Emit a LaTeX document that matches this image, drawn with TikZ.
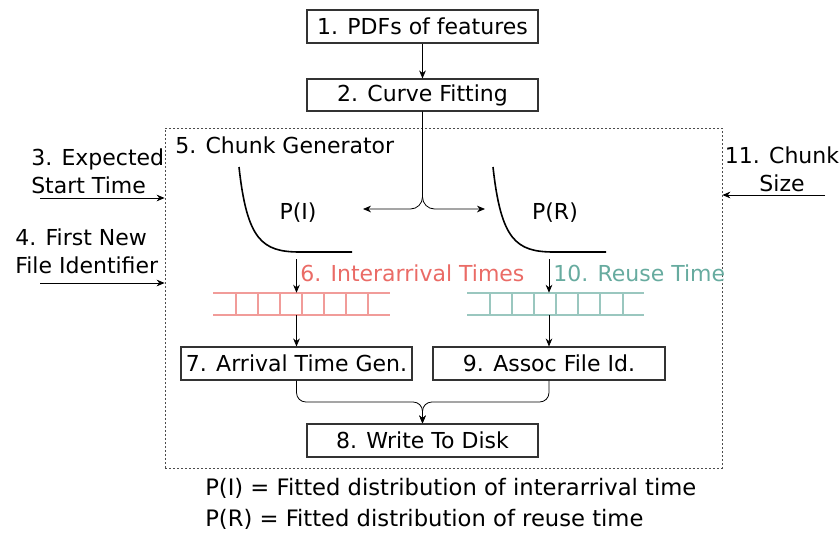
\documentclass[tikz,border=0pt]{standalone}
\usepackage{fontspec}
\setmainfont{DejaVu Sans}
\usetikzlibrary{arrows.meta}
\definecolor{redtxt}{HTML}{EA6B66}
\definecolor{redq}{HTML}{F19C99}
\definecolor{tealtxt}{HTML}{67AB9F}
\definecolor{tealq}{HTML}{9AC7BF}
\definecolor{edge}{HTML}{333333}
\begin{document}
\begin{tikzpicture}[x=0.75pt, y=-0.75pt,
  font=\fontsize{16.5}{21}\selectfont,
  >={Stealth[length=6pt,width=5pt]},
  box/.style={draw=edge, line width=0.8pt, inner sep=0pt,
              minimum width=173.25pt, minimum height=24.75pt},
  genbox/.style={draw=black!70, line width=0.6pt, dash pattern=on 1.8pt off 1.2pt,
              inner sep=0pt, minimum width=417.75pt, minimum height=255pt},
  lbl/.style={inner sep=0pt, anchor=west},
  conn/.style={draw=black, line width=0.6pt, ->},
  pdfcurve/.style={line width=1.2pt},
  qline/.style={line width=0.8pt},
  qslot/.style={inner sep=0pt, minimum width=132.75pt, minimum height=16.5pt}]
  \useasboundingbox (0,0) rectangle (840,533);

  % main blocks
  \node[box] (b1) at (422.5,26.5) {1. PDFs of features};
  \node[box, minimum height=24pt] (b2) at (422.5,95) {2. Curve Fitting};
  \node[genbox] (gen) at (443.5,298) {};
  \node[box] (b7) at (296.5,363.5) {7. Arrival Time Gen.};
  \node[box, minimum width=174pt] (b9) at (549,363.5) {9. Assoc File Id.};
  \node[box] (b8) at (422.5,440.5) {8. Write To Disk};

  \draw[conn] (b1) -- (b2);

  % chunk generator contents
  \node[lbl] (t5) at (175,145) {5. Chunk Generator};
  \node (pI) at (298,213) {P(I)};
  \node (pR) at (555,213) {P(R)};
  \draw[pdfcurve] (239,167) .. controls (247,240) and (262,252) .. (300,252) -- (352,252);
  \draw[pdfcurve] (493,167) .. controls (501,240) and (516,252) .. (554,252) -- (606,252);

  % fitted curves fed to both distributions
  \coordinate (fitL) at (363,209);
  \coordinate (fitR) at (485,209);
  \draw[conn, rounded corners=9pt] (b2.south) |- (fitL);
  \draw[conn, rounded corners=9pt] (b2.south) |- (fitR);

  % queues
  \node[qslot] (qI) at (301.5,304) {};
  \node[qslot] (qR) at (555.5,304) {};
  \draw[redq, qline] (213,293) -- (390,293) (213,315) -- (390,315);
  \foreach \x in {236,258,280,302,324,346,368}
    \draw[redq, qline] (\x,293) -- (\x,315);
  \draw[tealq, qline] (467,293) -- (644,293) (467,315) -- (644,315);
  \foreach \x in {490,512,534,556,578,600,623}
    \draw[tealq, qline] (\x,293) -- (\x,315);

  \node[lbl, text=redtxt] (t6) at (300,273) {6. Interarrival Times};
  \node[lbl, text=tealtxt] (t10) at (553,273) {10. Reuse Time};

  \coordinate (aI) at (296.5,259);
  \coordinate (aR) at (549,259);
  \draw[conn] (aI) -- (aI |- qI.north);
  \draw[conn] (aR) -- (aR |- qR.north);
  \draw[conn] (b7.north |- qI.south) -- (b7.north);
  \draw[conn] (b9.north |- qR.south) -- (b9.north);

  % merge into disk writer
  \coordinate (mL) at (296.5,402);
  \coordinate (mR) at (549,402);
  \coordinate (mC) at (422.5,402);
  \draw[conn, rounded corners=7pt] (b7.south) -- (mL) -- (mC) -- (b8.north);
  \draw[conn, rounded corners=7pt] (b9.south) -- (mR) -- (mC) -- (b8.north);

  % external inputs
  \node[lbl, align=left] (t3) at (31,171) {3. Expected\\Start Time};
  \node[lbl, align=left] (t4) at (15,251.5) {4. First New\\File Identifier};
  \node[inner sep=0pt, align=center] (t11) at (782,169.5) {11. Chunk\\Size};
  \coordinate (s3) at (40,198);
  \coordinate (s4) at (40,283);
  \coordinate (s11) at (825,195);
  \draw[conn] (s3) -- (s3 -| gen.west);
  \draw[conn] (s4) -- (s4 -| gen.west);
  \draw[conn] (s11) -- (s11 -| gen.east);

  % legend
  \node[lbl, align=left, font=\fontsize{17}{23.25}\selectfont] (leg) at (205,503.5)
    {P(I) = Fitted distribution of interarrival time\\P(R) = Fitted distribution of reuse time};
\end{tikzpicture}
\end{document}
